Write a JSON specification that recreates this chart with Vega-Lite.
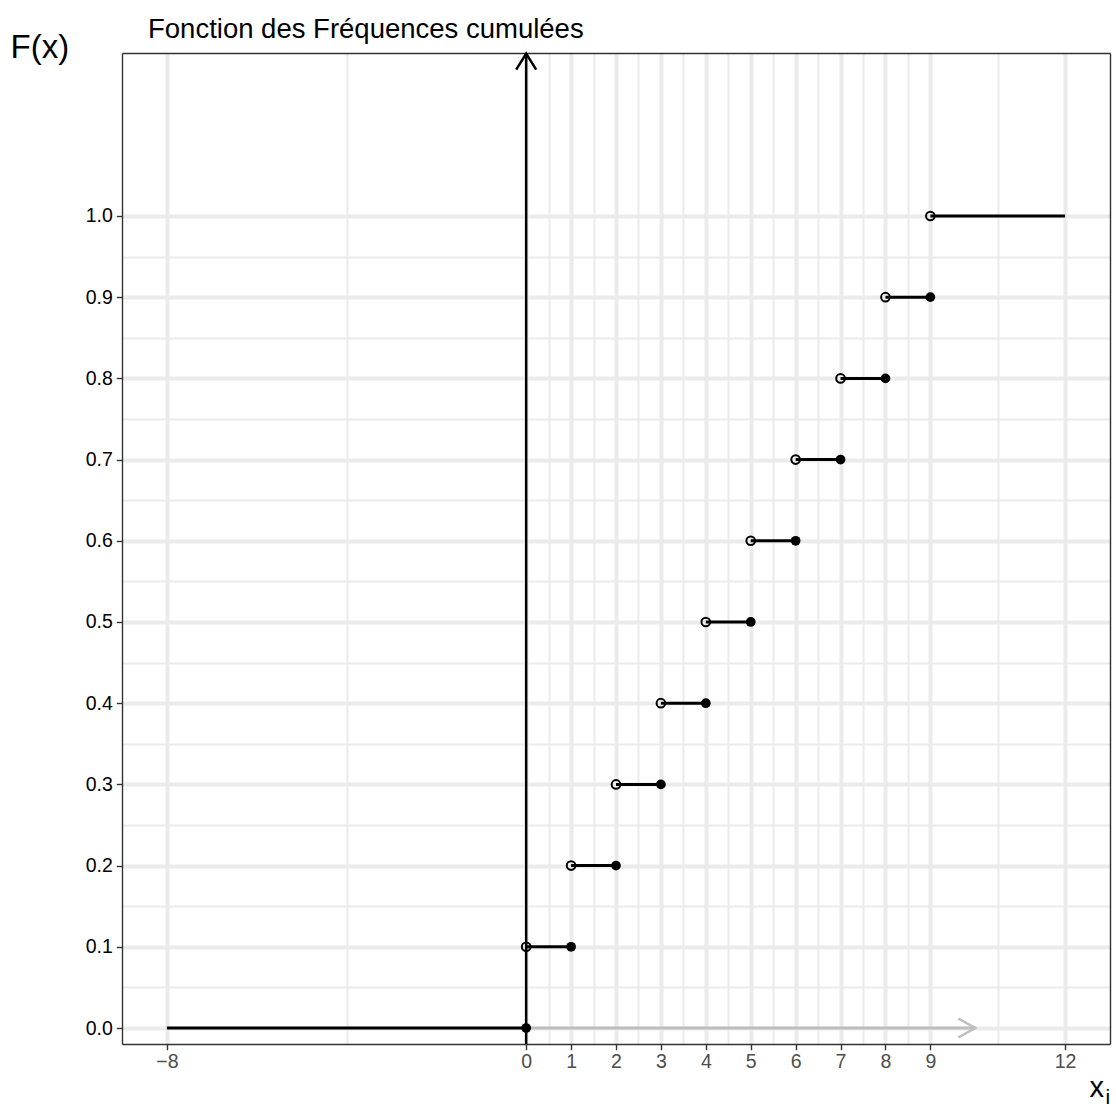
{
  "$schema": "https://vega.github.io/schema/vega-lite/v6.json",
  "width": 988,
  "height": 991,
  "autosize": "none",
  "padding": {"left": 122, "top": 53, "right": 6, "bottom": 65},
  "background": "white",
  "config": {"view": {"stroke": null}, "font": "Liberation Sans"},
  "title": {
    "text": "Fonction des Fréquences cumulées",
    "anchor": "start",
    "frame": "group",
    "dx": 26,
    "offset": -34,
    "font": "Liberation Sans",
    "fontSize": 27.5,
    "fontWeight": "normal",
    "color": "black",
    "baseline": "alphabetic"
  },
  "datasets": {
    "xarrow": [{"x": 0, "x2": 10, "y": 0}],
    "xtip": [{"x": 10, "y": 0}],
    "yaxis": [{"x": 0}],
    "ytip": [{"x": 0, "y": 1.2}],
    "open": [
      {"x": 0, "y": 0.1}, {"x": 1, "y": 0.2}, {"x": 2, "y": 0.3}, {"x": 3, "y": 0.4},
      {"x": 4, "y": 0.5}, {"x": 5, "y": 0.6}, {"x": 6, "y": 0.7}, {"x": 7, "y": 0.8},
      {"x": 8, "y": 0.9}, {"x": 9, "y": 1.0}
    ],
    "steps": [
      {"x": -8, "x2": 0, "y": 0},
      {"x": 0, "x2": 1, "y": 0.1}, {"x": 1, "x2": 2, "y": 0.2}, {"x": 2, "x2": 3, "y": 0.3},
      {"x": 3, "x2": 4, "y": 0.4}, {"x": 4, "x2": 5, "y": 0.5}, {"x": 5, "x2": 6, "y": 0.6},
      {"x": 6, "x2": 7, "y": 0.7}, {"x": 7, "x2": 8, "y": 0.8}, {"x": 8, "x2": 9, "y": 0.9},
      {"x": 9, "x2": 12, "y": 1.0}
    ],
    "closed": [
      {"x": 0, "y": 0}, {"x": 1, "y": 0.1}, {"x": 2, "y": 0.2}, {"x": 3, "y": 0.3},
      {"x": 4, "y": 0.4}, {"x": 5, "y": 0.5}, {"x": 6, "y": 0.6}, {"x": 7, "y": 0.7},
      {"x": 8, "y": 0.8}, {"x": 9, "y": 0.9}
    ]
  },
  "resolve": {"axis": {"x": "independent", "y": "independent"}},
  "layer": [
    {
      "data": {"name": "xarrow"},
      "mark": {"type": "rule", "color": "#bebebe", "strokeWidth": 3},
      "encoding": {
        "x": {
          "field": "x", "type": "quantitative",
          "scale": {"domain": [-9, 13], "nice": false, "zero": false},
          "axis": {
            "values": [-8, 0, 1, 2, 3, 4, 5, 6, 7, 8, 9, 12],
            "format": "d",
            "grid": true, "gridColor": "#ebebeb", "gridWidth": 4,
            "domain": true, "domainColor": "#333333", "domainWidth": 1.4,
            "ticks": true, "tickSize": 5.7, "tickColor": "#333333", "tickWidth": 1.4,
            "labelFont": "Liberation Sans", "labelFontSize": 19.5, "labelColor": "#4d4d4d",
            "labelPadding": 3, "labelFlush": false, "labelOverlap": false,
            "title": "x", "titleFont": "Liberation Sans", "titleFontSize": 29,
            "titleFontWeight": "normal", "titleColor": "black",
            "titleX": 967, "titleY": 52, "titleAlign": "left", "titleBaseline": "alphabetic"
          }
        },
        "x2": {"field": "x2"},
        "y": {
          "field": "y", "type": "quantitative",
          "scale": {"domain": [-0.0197, 1.2007], "nice": false, "zero": false},
          "axis": {
            "values": [0, 0.1, 0.2, 0.3, 0.4, 0.5, 0.6, 0.7, 0.8, 0.9, 1.0],
            "format": ".1f",
            "grid": true, "gridColor": "#ebebeb", "gridWidth": 4,
            "domain": true, "domainColor": "#333333", "domainWidth": 1.4,
            "ticks": true, "tickSize": 5.7, "tickColor": "#333333", "tickWidth": 1.4,
            "labelFont": "Liberation Sans", "labelFontSize": 19.5, "labelColor": "black",
            "labelPadding": 4, "labelFlush": false, "labelOverlap": false,
            "title": "F(x)", "titleFont": "Liberation Sans", "titleFontSize": 33,
            "titleFontWeight": "normal", "titleColor": "black", "titleAngle": 0,
            "titleX": -112, "titleY": 4, "titleAlign": "left", "titleBaseline": "alphabetic"
          }
        }
      }
    },
    {
      "data": {"name": "xtip"},
      "mark": {"type": "point", "shape": "M-1,-0.56L0,0L-1,0.56", "size": 1156, "filled": false, "stroke": "#bebebe", "strokeWidth": 2.5, "opacity": 1},
      "encoding": {
        "x": {
          "field": "x", "type": "quantitative",
          "axis": {
            "orient": "top",
            "values": [-4, 0.5, 1.5, 2.5, 3.5, 4.5, 5.5, 6.5, 7.5, 8.5, 10.5],
            "grid": true, "gridColor": "#ebebeb", "gridWidth": 2,
            "ticks": false, "labels": false,
            "domain": true, "domainColor": "#333333", "domainWidth": 1.4,
            "title": "i", "titleFont": "Liberation Sans", "titleFontSize": 21,
            "titleFontWeight": "normal", "titleColor": "black",
            "titleX": 983, "titleY": 1050, "titleAlign": "left", "titleBaseline": "alphabetic"
          }
        },
        "y": {
          "field": "y", "type": "quantitative",
          "axis": {
            "orient": "right",
            "values": [0.05, 0.15, 0.25, 0.35, 0.45, 0.55, 0.65, 0.75, 0.85, 0.95],
            "grid": true, "gridColor": "#ebebeb", "gridWidth": 2,
            "ticks": false, "labels": false,
            "domain": true, "domainColor": "#333333", "domainWidth": 1.4,
            "title": null
          }
        }
      }
    },
    {
      "data": {"name": "yaxis"},
      "mark": {"type": "rule", "color": "black", "strokeWidth": 2.5},
      "encoding": {
        "x": {"field": "x", "type": "quantitative", "axis": null}
      }
    },
    {
      "data": {"name": "ytip"},
      "mark": {"type": "point", "shape": "M-0.625,1L0,0L0.625,1", "size": 1024, "filled": false, "stroke": "black", "strokeWidth": 2.5, "opacity": 1},
      "encoding": {
        "x": {"field": "x", "type": "quantitative", "axis": null},
        "y": {"field": "y", "type": "quantitative", "axis": null}
      }
    },
    {
      "data": {"name": "open"},
      "mark": {"type": "point", "shape": "circle", "size": 75, "filled": false, "stroke": "black", "strokeWidth": 2, "opacity": 1},
      "encoding": {
        "x": {"field": "x", "type": "quantitative", "axis": null},
        "y": {"field": "y", "type": "quantitative", "axis": null}
      }
    },
    {
      "data": {"name": "steps"},
      "mark": {"type": "rule", "color": "black", "strokeWidth": 3},
      "encoding": {
        "x": {"field": "x", "type": "quantitative", "axis": null},
        "x2": {"field": "x2"},
        "y": {"field": "y", "type": "quantitative", "axis": null}
      }
    },
    {
      "data": {"name": "closed"},
      "mark": {"type": "point", "shape": "circle", "size": 95, "filled": true, "color": "black", "opacity": 1},
      "encoding": {
        "x": {"field": "x", "type": "quantitative", "axis": null},
        "y": {"field": "y", "type": "quantitative", "axis": null}
      }
    }
  ]
}
